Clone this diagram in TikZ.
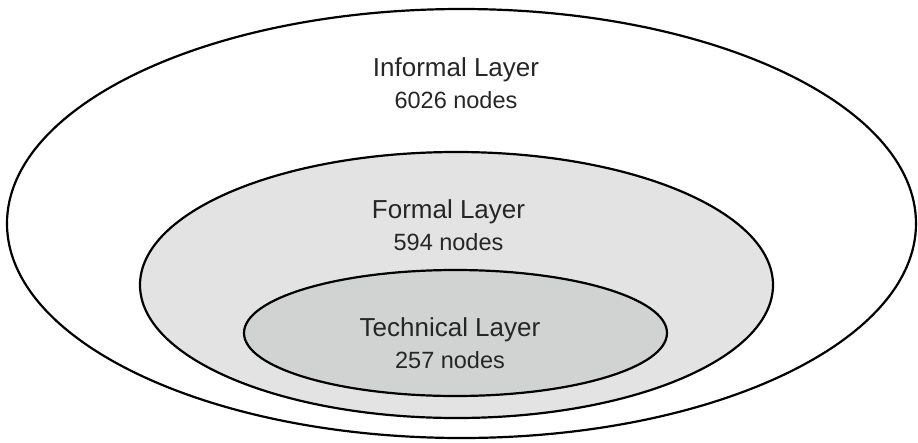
\documentclass[tikz,border=0pt]{standalone}
\usepackage{fontspec}
\setmainfont{Liberation Sans}
\usepackage{xcolor}
\usepackage{tikz}
\usetikzlibrary{shapes.geometric, positioning}
\definecolor{formalgray}{HTML}{E3E3E3}
\definecolor{techgray}{HTML}{D1D2D2}
\tikzset{
    layer/.style={ellipse, draw, line width=2.2pt, inner sep=0pt},
    caption/.style={align=center, inner sep=0pt, font=\fontsize{23.5}{32}\selectfont, text=black!85},
}
\newcommand{\layername}[1]{{\fontsize{26}{32}\selectfont #1}}

\begin{document}
\begin{tikzpicture}[x=1pt, y=-1pt]
    \useasboundingbox (0,0) rectangle (918,442);
    \node[layer, minimum width=909pt, minimum height=429pt]                  (informal)  at (461.5,223.5) {};
    \node[layer, fill=formalgray, minimum width=633pt, minimum height=266pt] (formal)    at (456.5,285) {};
    \node[layer, fill=techgray, minimum width=423pt, minimum height=126pt]   (technical) at (455.5,333) {};

    \node[caption] (informaltext)  at (456,83.5)  {\layername{Informal Layer}\\6026 nodes};
    \node[caption] (formaltext)    at (448.5,225.5) {\layername{Formal Layer}\\594 nodes};
    \node[caption] (technicaltext) at (450,343.5) {\layername{Technical Layer}\\257 nodes};
\end{tikzpicture}
\end{document}
